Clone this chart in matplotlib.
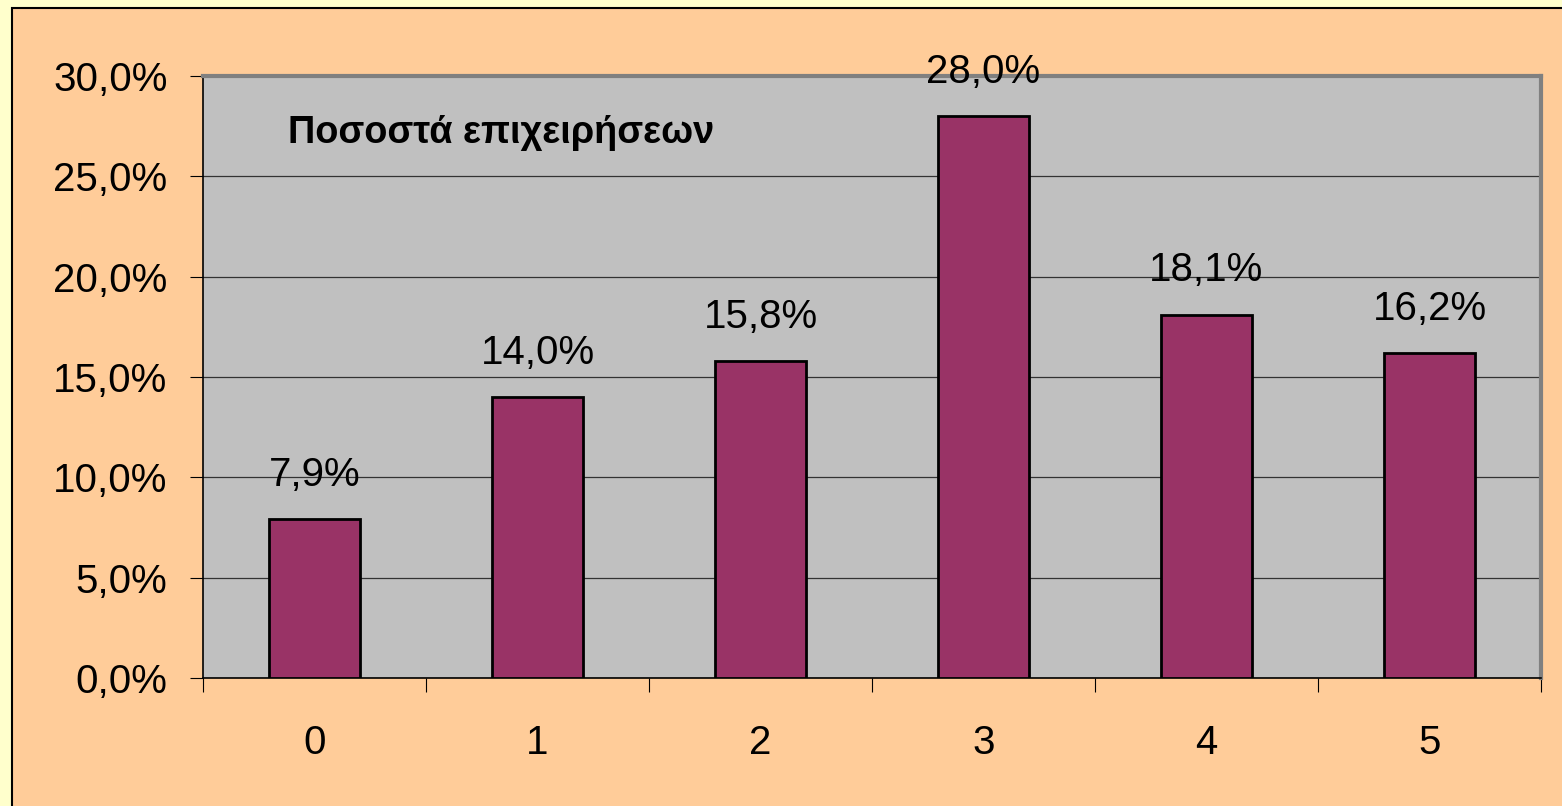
import matplotlib.pyplot as plt
from matplotlib.patches import Rectangle
from matplotlib.ticker import FuncFormatter
import numpy as np

plt.rcParams['font.family'] = ['Liberation Sans', 'DejaVu Sans']

categories = ["0", "1", "2", "3", "4", "5"]
percentages = [7.9, 14.0, 15.8, 28.0, 18.1, 16.2]
title_text = "Ποσοστά επιχειρήσεων"

fig = plt.figure(figsize=(15.62, 8.06), dpi=100)
fig.patch.set_facecolor("#FFFFCC")

# peach chart area with a black frame, running off the right and bottom
frame = Rectangle((12 / 1562, -0.01), 1.0, 1 - 8 / 806 + 0.01,
                  transform=fig.transFigure, facecolor="#FFCC99",
                  edgecolor="black", linewidth=1.5, zorder=-10)
fig.add_artist(frame)

ax = fig.add_axes([203 / 1562, 1 - 678 / 806, (1541 - 203) / 1562, (678 - 76) / 806])
ax.set_facecolor("#C0C0C0")

x = np.arange(len(categories))
ax.bar(x, percentages, width=0.41, color="#993366", edgecolor="black",
       linewidth=2, zorder=3)

for xi, v in zip(x, percentages):
    ax.annotate(f"{v:.1f}%".replace(".", ","), (xi, v), xytext=(0, 24),
                textcoords="offset points", ha="center", va="baseline", fontsize=29)

ax.set_xlim(-0.5, len(categories) - 0.5)
ax.set_ylim(0, 30)
ax.set_yticks(np.arange(0, 31, 5))
ax.yaxis.set_major_formatter(FuncFormatter(lambda v, p: f"{v:.1f}%".replace(".", ",")))
ax.yaxis.grid(True, color="#333333", linewidth=0.9, zorder=1)
ax.set_axisbelow(True)

# category labels centred, ticks on the boundaries
ax.set_xticks(np.arange(-0.5, len(categories), 1.0))
ax.set_xticklabels([])
ax.set_xticks(x, minor=True)
ax.set_xticklabels(categories, minor=True)
ax.tick_params(axis="x", which="minor", length=0, labelsize=29, pad=33)
ax.tick_params(axis="x", which="major", length=10, direction="out", color="black")
ax.tick_params(axis="y", length=9.5, direction="out", labelsize=29, pad=16)

for side in ["left", "bottom"]:
    ax.spines[side].set_color("black")
    ax.spines[side].set_linewidth(1.2)
for side in ["top", "right"]:
    ax.spines[side].set_color("#808080")
    ax.spines[side].set_linewidth(3)

ax.text(0.0635, 0.905, title_text, transform=ax.transAxes, fontsize=27.3,
        fontweight="bold", va="center", ha="left")

fig.savefig("out.png", dpi=100, facecolor=fig.get_facecolor())
